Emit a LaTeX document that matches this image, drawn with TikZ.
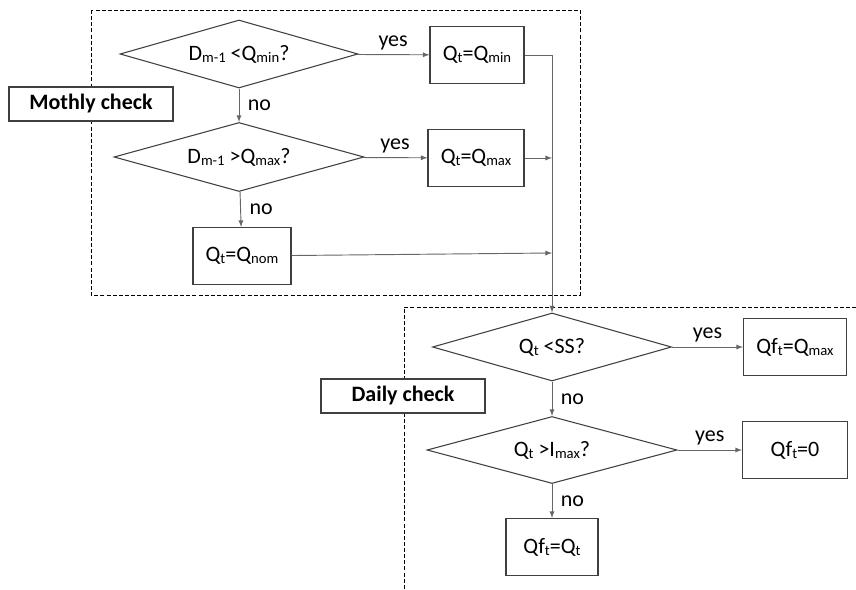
\documentclass[tikz,border=0pt]{standalone}
\usepackage{fontspec}
\setmainfont{Carlito}
\usetikzlibrary{
	arrows,
	shapes.geometric
}
\newcommand{\lowtxt}[1]{\raisebox{-0.2ex}{\fontsize{11}{11}\selectfont #1}}

\begin{document}
\begin{tikzpicture}[x=0.75pt,y=-0.75pt,
    font=\fontsize{16.5}{19}\selectfont,
    decision/.style={diamond, draw=black!75, line width=0.8pt, inner sep=0pt, aspect=3.5},
    result/.style={rectangle, draw=black!75, line width=0.8pt, minimum height=42.75pt},
    checktag/.style={rectangle, draw=black!75, line width=0.8pt, fill=white, font=\fontsize{16.5}{19}\selectfont\bfseries, minimum width=123pt, minimum height=25.5pt},
    flow/.style={->, >=latex, draw=black!60, line width=0.7pt},
    region/.style={draw=black, line width=0.6pt, dash pattern=on 3pt off 1.6pt}
  ]
    \useasboundingbox (0,0) rectangle (856,589);
    % Definitions
    \coordinate (MinTest)  at (239,54);
    \coordinate (MaxTest)  at (239,157);
    \coordinate (SSTest)   at (552,347);
    \coordinate (ImaxTest) at (552,450);
    \coordinate (SetMin)   at (477,55);
    \coordinate (SetMax)   at (476,158);
    \coordinate (SetNom)   at (242,256);
    \coordinate (FMax)     at (795,347);
    \coordinate (FZero)    at (795,450);
    \coordinate (FQt)      at (552,547);
    \coordinate (MergeTop) at (552,55);
    \coordinate (MergeMax) at (552,158);
    \coordinate (MergeNom) at (552,253);
    % Check regions
    \draw[region] (91,10) rectangle (580,295);
    \draw[region] (856,307) -- (404,307) -- (404,589);
    % Nodes
    \node(D1) at (MinTest)  [decision, minimum width=178.5pt, minimum height=51pt] {D\lowtxt{m-1} <Q\lowtxt{min}?};
    \node(D2) at (MaxTest)  [decision, minimum width=187.5pt, minimum height=51.75pt] {D\lowtxt{m-1} >Q\lowtxt{max}?};
    \node(D3) at (SSTest)   [decision, minimum width=179.25pt, minimum height=51pt] {Q\lowtxt{t} <SS?};
    \node(D4) at (ImaxTest) [decision, minimum width=187.5pt, minimum height=50.25pt] {Q\lowtxt{t} >I\lowtxt{max}?};
    \node(R1) at (SetMin) [result, minimum width=70.5pt] {Q\lowtxt{t}=Q\lowtxt{min}};
    \node(R2) at (SetMax) [result, minimum width=72pt] {Q\lowtxt{t}=Q\lowtxt{max}};
    \node(R3) at (SetNom) [result, minimum width=73.5pt] {Q\lowtxt{t}=Q\lowtxt{nom}};
    \node(F1) at (FMax)   [result, minimum width=77.25pt] {Qf\lowtxt{t}=Q\lowtxt{max}};
    \node(F2) at (FZero)  [result, minimum width=78.75pt] {Qf\lowtxt{t}=0};
    \node(F3) at (FQt)    [result, minimum width=69pt] {Qf\lowtxt{t}=Q\lowtxt{t}};
    \node(MC) at (91,104)  [checktag] {Mothly check};
    \node(DC) at (403,396) [checktag] {Daily check};
    % Arrows
    \draw[flow] (D1) -- (R1) node[midway, above] {yes};
    \draw[flow] (D1) -- (D2) node[midway, right, xshift=3pt] {no};
    \draw[flow] (D2) -- (R2) node[midway, above] {yes};
    \draw[flow] (D2) -- (R3) node[midway, right, xshift=3pt] {no};
    \draw[flow] (R2) -- (MergeMax);
    \draw[flow] (R3) -- (MergeNom);
    \draw[flow] (R1) -- (MergeTop) -- (D3);
    \draw[flow] (D3) -- (F1) node[midway, above] {yes};
    \draw[flow] (D3) -- (D4) node[midway, right, xshift=3pt] {no};
    \draw[flow] (D4) -- (F2) node[midway, above] {yes};
    \draw[flow] (D4) -- (F3) node[midway, right, xshift=3pt] {no};
\end{tikzpicture}
\end{document}
